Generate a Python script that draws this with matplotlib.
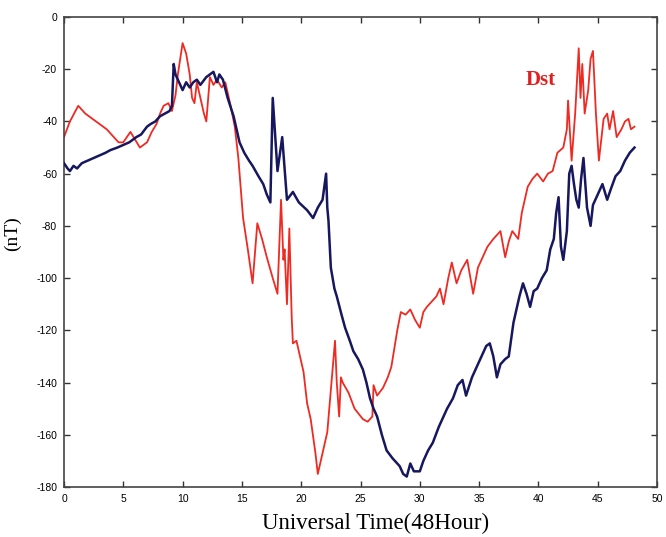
import matplotlib
matplotlib.use("Agg")
import matplotlib.pyplot as plt

# Dst (red) time series: hours, nT
red_t = [0, 0.5, 1.2, 1.8, 2.4, 3.0, 3.6, 4.2, 4.6, 5.0,
         5.3, 5.6, 6.0, 6.4, 7.0, 7.4, 7.8, 8.1, 8.4, 8.8,
         9.1, 9.4, 9.6, 10.0, 10.3, 10.6, 10.8, 11.0, 11.2, 11.5,
         11.8, 12.0, 12.3, 12.6, 12.9, 13.3, 13.6, 14.0, 14.4, 14.7,
         15.1, 15.5, 15.9, 16.3, 16.7, 17.1, 17.6, 18.0, 18.3, 18.5,
         18.6, 18.8, 19.0, 19.2, 19.3, 19.6, 19.9, 20.2, 20.5, 20.8,
         21.2, 21.4, 21.6, 21.9, 22.2, 22.5, 22.85, 23.0, 23.2, 23.35,
         23.5, 24.0, 24.5, 25.2, 25.6, 26.0, 26.1, 26.4, 26.9, 27.3,
         27.6, 28.1, 28.4, 28.8, 29.2, 29.6, 30.0, 30.3, 30.6, 31.0,
         31.4, 31.7, 32.0, 32.4, 32.7, 33.1, 33.5, 34.0, 34.5, 34.9,
         35.2, 35.7, 36.2, 36.8, 37.2, 37.5, 37.8, 38.3, 38.6, 39.1,
         39.5, 39.9, 40.4, 40.8, 41.2, 41.6, 42.1, 42.4, 42.5, 42.8,
         43.1, 43.4, 43.55, 43.7, 43.9, 44.2, 44.4, 44.6, 44.85, 45.1,
         45.5, 45.8, 46.0, 46.3, 46.6, 47.0, 47.3, 47.6, 47.8, 48.1]
red_v = [-46, -40, -34, -37, -39, -41, -43, -46, -48, -48,
         -46, -44, -47, -50, -48, -44, -41, -37, -34, -33,
         -36, -30, -22, -10, -14, -22, -31, -33, -25, -31,
         -37, -40, -23, -26, -24, -27, -25, -33, -42, -54,
         -77, -89, -102, -79, -85, -92, -100, -106, -70, -93,
         -89, -110, -81, -115, -125, -124, -130, -136, -148, -154,
         -167, -175, -171, -165, -159, -143, -124, -140, -153, -138,
         -140, -144, -150, -154, -155, -153, -141, -145, -142, -138,
         -134, -120, -113, -114, -112, -116, -119, -113, -111, -109,
         -107, -104, -110, -100, -94, -102, -97, -93, -106, -96,
         -93, -88, -85, -82, -92, -86, -82, -85, -75, -65,
         -62, -60, -63, -60, -59, -52, -50, -43, -32, -55,
         -37, -12, -31, -18, -37, -28, -16, -13, -37, -55,
         -39, -37, -43, -36, -46, -43, -40, -39, -43, -42]

# Model (blue) time series: hours, nT
blue_t = [0, 0.3, 0.5, 0.8, 1.1, 1.5, 2.0, 2.5, 3.0, 3.5,
          3.9, 4.5, 5.0, 5.5, 6.1, 6.5, 7.0, 7.3, 7.7, 8.1,
          8.5, 8.9, 9.1, 9.25, 9.4, 9.6, 10.0, 10.3, 10.6, 10.9,
          11.2, 11.5, 12.0, 12.3, 12.6, 12.9, 13.1, 13.4, 13.8, 14.3,
          14.8, 15.2, 15.6, 15.9, 16.4, 16.8, 17.1, 17.4, 17.6, 18.0,
          18.4, 18.8, 19.3, 19.8, 20.5, 21.0, 21.4, 21.8, 22.1, 22.2,
          22.3, 22.5, 22.8, 23.0, 23.4, 23.7, 24.1, 24.4, 24.8, 25.2,
          25.5, 25.8, 26.1, 26.4, 26.8, 27.2, 27.7, 28.3, 28.6, 28.9,
          29.2, 29.5, 30.0, 30.3, 30.7, 31.1, 31.6, 32.0, 32.3, 32.8,
          33.2, 33.6, 33.9, 34.4, 34.8, 35.3, 35.6, 35.9, 36.2, 36.5,
          36.8, 37.2, 37.5, 37.9, 38.2, 38.4, 38.7, 39.0, 39.3, 39.6,
          39.9, 40.3, 40.7, 41.0, 41.3, 41.5, 41.7, 41.9, 42.1, 42.4,
          42.6, 42.8, 43.0, 43.2, 43.4, 43.6, 43.8, 44.1, 44.4, 44.6,
          44.8, 45.1, 45.4, 45.8, 46.1, 46.5, 46.9, 47.3, 47.7, 48.1]
blue_v = [-56, -58, -59, -57, -58, -56, -55, -54, -53, -52,
          -51, -50, -49, -48, -46, -45, -42, -41, -40, -38,
          -37, -36, -34, -18, -22, -24, -28, -25, -27, -25,
          -24, -26, -23, -22, -21, -25, -22, -24, -31, -38,
          -48, -52, -55, -57, -61, -64, -68, -71, -31, -59,
          -46, -70, -67, -71, -74, -77, -73, -70, -60, -73,
          -78, -96, -104, -107, -114, -119, -124, -128, -131, -135,
          -140, -146, -150, -153, -160, -166, -169, -172, -175, -176,
          -171, -174, -174, -170, -166, -163, -157, -153, -150, -146,
          -141, -139, -145, -138, -134, -129, -126, -125, -130, -138,
          -133, -131, -130, -117, -111, -107, -102, -106, -111, -105,
          -104, -100, -97, -89, -85, -75, -69, -88, -93, -82,
          -60, -57, -64, -70, -73, -62, -54, -73, -80, -72,
          -70, -67, -64, -70, -66, -61, -59, -55, -52, -50]

assert len(red_t) == len(red_v)
assert len(blue_t) == len(blue_v)

x_ticks = [0, 5, 10, 15, 20, 25, 30, 35, 40, 45, 50]
y_ticks = [0, -20, -40, -60, -80, -100, -120, -140, -160, -180]

plt.rcParams['axes.unicode_minus'] = False

fig = plt.figure(figsize=(6.66, 5.37), dpi=100)
ax = fig.add_axes([64 / 666, 1 - 487 / 537, (657 - 64) / 666, (487 - 17) / 537])

ax.plot(red_t, red_v, color='#ee2a22', lw=1.3, zorder=2)
ax.plot(blue_t, blue_v, color='#17175f', lw=1.8, zorder=3)

ax.set_xlim(0, 50)
ax.set_ylim(-180, 0)
ax.set_xticks(x_ticks)
ax.set_yticks(y_ticks)
tick_font = dict(family=['Liberation Sans Narrow', 'Liberation Sans'], size=7.5)
ax.set_xticklabels([str(v) for v in x_ticks], **tick_font)
ax.set_yticklabels([str(v) for v in y_ticks], **tick_font)
ax.tick_params(direction='in', top=True, right=True, length=4, width=1,
               color='#333333', pad=5)
for s in ax.spines.values():
    s.set_color('#444444')
    s.set_linewidth(1.2)

ax.set_xlabel('Universal Time(48Hour)', family='Liberation Serif', size=16.5)
ax.xaxis.set_label_coords(0.526, -0.055)
ax.set_ylabel('(nT)', family='Liberation Serif', size=14)
ax.yaxis.set_label_coords(-0.072, 0.54)

ax.text(40.2, -24, 'Dst', color='#e02020', family='Liberation Serif',
        fontweight='bold', size=15, ha='center', va='center')

fig.savefig('out.png', dpi=100)
